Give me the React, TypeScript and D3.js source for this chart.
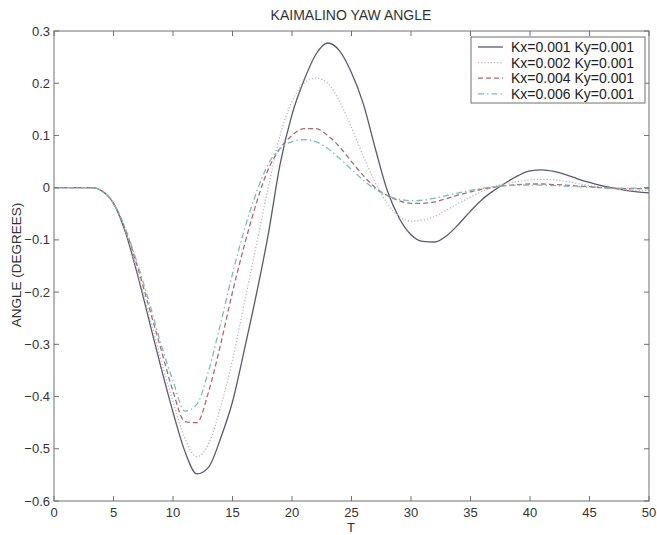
import * as d3 from 'd3';
import React, { useRef, useEffect } from 'react';

const T = [0, 1, 2, 3, 3.5, 4, 5, 6, 7, 8, 9, 10, 11, 12, 13, 14, 15, 16, 17, 18, 19, 20, 21, 22, 23, 24, 25, 26, 27, 28, 29, 30, 31, 32, 33, 34, 35, 36, 37, 38, 39, 40, 41, 42, 43, 44, 45, 46, 47, 48, 49, 50];

const kx001 = [0, 0, 0, 0, -0.001, -0.006, -0.03, -0.085, -0.165, -0.255, -0.345, -0.43, -0.505, -0.548, -0.535, -0.48, -0.41, -0.31, -0.205, -0.09, 0.045, 0.14, 0.205, 0.255, 0.277, 0.262, 0.22, 0.16, 0.075, -0.005, -0.058, -0.09, -0.103, -0.104, -0.092, -0.07, -0.045, -0.022, -0.005, 0.01, 0.023, 0.032, 0.034, 0.031, 0.025, 0.017, 0.01, 0.004, -0.001, -0.005, -0.008, -0.01];
const kx002 = [0, 0, 0, 0, -0.001, -0.006, -0.03, -0.083, -0.16, -0.245, -0.33, -0.41, -0.48, -0.515, -0.49, -0.42, -0.33, -0.22, -0.11, 0.0, 0.1, 0.165, 0.2, 0.21, 0.2, 0.165, 0.115, 0.06, 0.01, -0.03, -0.055, -0.064, -0.062, -0.055, -0.043, -0.03, -0.018, -0.007, 0.002, 0.008, 0.012, 0.015, 0.016, 0.015, 0.012, 0.008, 0.004, 0.001, -0.002, -0.004, -0.005, -0.005];
const kx004 = [0, 0, 0, 0, -0.001, -0.006, -0.03, -0.08, -0.15, -0.23, -0.31, -0.39, -0.448, -0.45, -0.39, -0.3, -0.2, -0.11, -0.03, 0.035, 0.075, 0.1, 0.113, 0.113, 0.1, 0.078, 0.05, 0.023, 0.0, -0.015, -0.025, -0.03, -0.03, -0.027, -0.021, -0.014, -0.008, -0.003, 0.001, 0.004, 0.006, 0.007, 0.007, 0.006, 0.005, 0.003, 0.002, 0.0, -0.001, -0.002, -0.002, -0.002];
const kx006 = [0, 0, 0, 0, -0.001, -0.006, -0.03, -0.078, -0.145, -0.22, -0.3, -0.37, -0.428, -0.415, -0.35, -0.26, -0.165, -0.08, -0.01, 0.045, 0.075, 0.088, 0.092, 0.088, 0.075, 0.056, 0.035, 0.014, -0.003, -0.015, -0.022, -0.025, -0.024, -0.02, -0.015, -0.01, -0.005, -0.001, 0.002, 0.004, 0.005, 0.005, 0.005, 0.004, 0.003, 0.002, 0.001, 0.0, -0.001, -0.001, -0.001, -0.001];

const labels = ['Kx=0.001 Ky=0.001', 'Kx=0.002 Ky=0.001', 'Kx=0.004 Ky=0.001', 'Kx=0.006 Ky=0.001'];
const xTicks = [0, 5, 10, 15, 20, 25, 30, 35, 40, 45, 50];
const yTicks = [0.3, 0.2, 0.1, 0, -0.1, -0.2, -0.3, -0.4, -0.5, -0.6];

function App() {
  const svgRef = useRef(null);
  useEffect(() => {
    const width = 657;
    const height = 535;
    const left = 54, right = 649, top = 31, bottom = 501;
    const font = 'Liberation Sans, Arial, sans-serif';

    const series = [
      { values: kx001, color: '#585a74', dash: null, w: 1.3 },
      { values: kx002, color: '#c9aeb6', dash: '1.2,2', w: 1.3 },
      { values: kx004, color: '#b06a6a', dash: '5,3', w: 1.3 },
      { values: kx006, color: '#7cbcbc', dash: '6,3,1.5,3', w: 1.3 },
    ];

    const xScale = d3.scaleLinear().domain([0, 50]).range([left, right]);
    const yScale = d3.scaleLinear().domain([-0.6, 0.3]).range([bottom, top]);

    const svg = d3.select(svgRef.current);
    svg.selectAll('*').remove();
    svg.attr('width', width).attr('height', height);

    svg.append('rect').attr('width', width).attr('height', height).attr('fill', '#fff');

    /* lines */
    const line = d3
      .line()
      .x((d, i) => xScale(T[i]))
      .y((d) => yScale(d))
      .curve(d3.curveMonotoneX);

    series.forEach((s) => {
      svg
        .append('path')
        .attr('fill', 'none')
        .attr('stroke', s.color)
        .attr('stroke-width', s.w)
        .attr('stroke-dasharray', s.dash)
        .attr('d', line(s.values));
    });

    /* box + ticks */
    const axisColor = '#707070';
    svg
      .append('rect')
      .attr('x', left)
      .attr('y', top)
      .attr('width', right - left)
      .attr('height', bottom - top)
      .attr('fill', 'none')
      .attr('stroke', axisColor)
      .attr('stroke-width', 1);

    const tk = 5;
    const g = svg.append('g').attr('stroke', axisColor).attr('stroke-width', 1);
    xTicks.forEach((t) => {
      const x = xScale(t);
      g.append('line').attr('x1', x).attr('x2', x).attr('y1', bottom).attr('y2', bottom - tk);
      g.append('line').attr('x1', x).attr('x2', x).attr('y1', top).attr('y2', top + tk);
    });
    yTicks.forEach((v) => {
      const y = yScale(v);
      g.append('line').attr('x1', left).attr('x2', left + tk).attr('y1', y).attr('y2', y);
      g.append('line').attr('x1', right).attr('x2', right - tk).attr('y1', y).attr('y2', y);
    });

    svg
      .append('g')
      .selectAll('text')
      .data(xTicks)
      .enter()
      .append('text')
      .attr('x', (d) => xScale(d))
      .attr('y', bottom + 16)
      .attr('text-anchor', 'middle')
      .attr('font-family', font)
      .attr('font-size', 13)
      .attr('fill', '#333')
      .text((d) => d);

    svg
      .append('g')
      .selectAll('text')
      .data(yTicks)
      .enter()
      .append('text')
      .attr('x', left - 4)
      .attr('y', (d) => yScale(d) + 4.5)
      .attr('text-anchor', 'end')
      .attr('font-family', font)
      .attr('font-size', 13)
      .attr('fill', '#333')
      .text((d) => d3.format('.1~f')(d));

    /* titles */
    svg
      .append('text')
      .attr('x', 351)
      .attr('y', 20)
      .attr('text-anchor', 'middle')
      .attr('font-family', font)
      .attr('font-size', 14)
      .attr('fill', '#333')
      .text('KAIMALINO YAW ANGLE');

    svg
      .append('text')
      .attr('x', 351)
      .attr('y', 532)
      .attr('text-anchor', 'middle')
      .attr('font-family', font)
      .attr('font-size', 13)
      .attr('fill', '#333')
      .text('T');

    svg
      .append('text')
      .attr('transform', `translate(21, 265) rotate(-90)`)
      .attr('text-anchor', 'middle')
      .attr('font-family', font)
      .attr('font-size', 13.5)
      .attr('fill', '#333')
      .text('ANGLE (DEGREES)');

    /* legend */
    const lx = 471, ly = 37, lw = 174, lh = 66;
    svg
      .append('rect')
      .attr('x', lx)
      .attr('y', ly)
      .attr('width', lw)
      .attr('height', lh)
      .attr('fill', '#fff')
      .attr('stroke', axisColor)
      .attr('stroke-width', 1);

    series.forEach((s, i) => {
      const y = ly + 10 + i * 15.6;
      svg
        .append('line')
        .attr('x1', lx + 7)
        .attr('x2', lx + 32)
        .attr('y1', y)
        .attr('y2', y)
        .attr('stroke', s.color)
        .attr('stroke-width', s.w)
        .attr('stroke-dasharray', s.dash);
      svg
        .append('text')
        .attr('x', lx + 40)
        .attr('y', y + 5)
        .attr('font-family', font)
        .attr('font-size', 14)
        .attr('fill', '#222')
        .text(labels[i]);
    });
  }, []);

  return (
    <svg ref={svgRef} style={{ position: 'absolute', left: 0, top: 0 }}></svg>
  );
}

export default App;
